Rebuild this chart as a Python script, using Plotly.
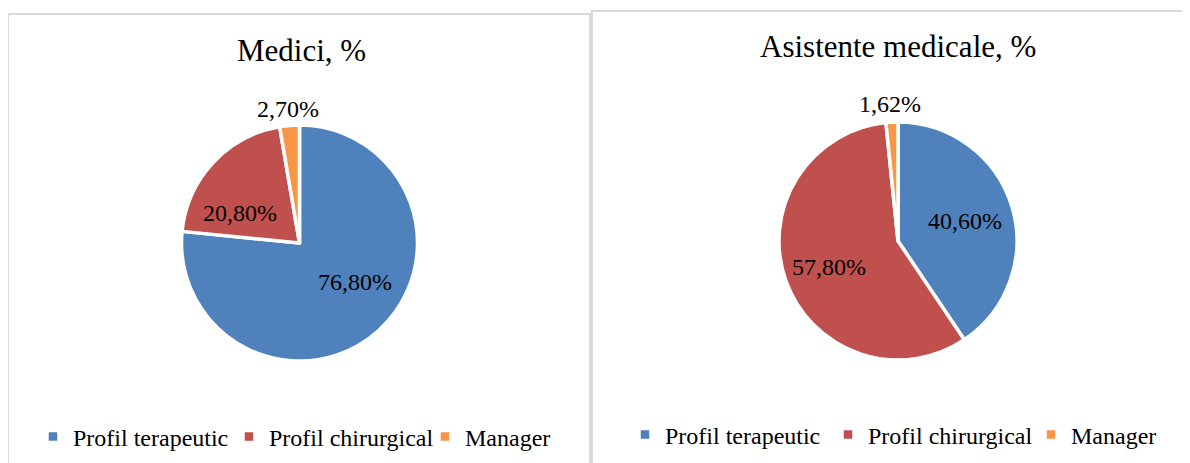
import plotly.graph_objects as go

# ---------------- data ----------------
categories = ["Profil terapeutic", "Profil chirurgical", "Manager"]
medici_values = [76.80, 20.80, 2.70]
medici_text = ["76,80%", "20,80%", "2,70%"]
asistente_values = [40.60, 57.80, 1.62]
asistente_text = ["40,60%", "57,80%", "1,62%"]
colors = ["#4F81BD", "#C0504D", "#F79646"]
titles = ["Medici, %", "Asistente medicale, %"]

# ---------------- layout helpers ----------------
FIG_W, FIG_H = 1260, 463
OFF = 8  # browser default body margin
FONT = "Liberation Serif"


def px_x(v):
    return (v - OFF) / FIG_W


def px_y(v):
    return 1 - (v - OFF) / FIG_H


# label placement (screen px of label centres), kept separate from the data
medici_label_pos = [(354.5, 282), (240, 213), (287.5, 109)]
asistente_label_pos = [(965, 221), (829, 267), (890, 104)]

fig = go.Figure()

pie_common = dict(
    textinfo="none", sort=False, direction="clockwise", rotation=0,
    marker=dict(colors=colors, line=dict(color="white", width=3.5)),
    hoverinfo="label+text", showlegend=True,
)

fig.add_trace(go.Pie(
    labels=categories, values=medici_values, text=medici_text,
    domain=dict(x=[px_x(181), px_x(418)], y=[px_y(361), px_y(125)]),
    legend="legend", **pie_common,
))

# a trailing space keeps the second pie's legend entries distinct from the first
fig.add_trace(go.Pie(
    labels=[c + " " for c in categories], values=asistente_values, text=asistente_text,
    domain=dict(x=[px_x(779), px_x(1017)], y=[px_y(360), px_y(122)]),
    legend="legend2", **pie_common,
))

border = "#D9D9D9"
shapes = [
    dict(type="rect", xref="paper", yref="paper",
         x0=px_x(8), x1=px_x(590), y0=-0.05, y1=px_y(14),
         line=dict(color=border, width=2), fillcolor="rgba(0,0,0,0)", layer="below"),
    dict(type="rect", xref="paper", yref="paper",
         x0=px_x(592), x1=1.05, y0=-0.05, y1=px_y(11),
         line=dict(color=border, width=2), fillcolor="rgba(0,0,0,0)", layer="below"),
]

annotations = [
    dict(text=titles[0], x=px_x(301.5), y=px_y(51), xref="paper", yref="paper",
         xanchor="center", yanchor="middle", showarrow=False,
         font=dict(family=FONT, size=31, color="black")),
    dict(text=titles[1], x=px_x(898), y=px_y(46), xref="paper", yref="paper",
         xanchor="center", yanchor="middle", showarrow=False,
         font=dict(family=FONT, size=31, color="black")),
]

for texts, positions in ((medici_text, medici_label_pos), (asistente_text, asistente_label_pos)):
    for t, (lx, ly) in zip(texts, positions):
        annotations.append(dict(
            text=t, x=px_x(lx), y=px_y(ly), xref="paper", yref="paper",
            xanchor="center", yanchor="middle", showarrow=False,
            font=dict(family=FONT, size=24, color="black"),
        ))

legend_common = dict(
    orientation="h", xanchor="left", yanchor="middle",
    font=dict(family=FONT, size=24, color="black"),
    bgcolor="rgba(0,0,0,0)", itemclick=False, itemdoubleclick=False,
    traceorder="normal", entrywidthmode="pixels",
)

fig.update_layout(
    width=FIG_W, height=FIG_H,
    margin=dict(l=0, r=0, t=0, b=0),
    paper_bgcolor="white", plot_bgcolor="white",
    shapes=shapes, annotations=annotations,
    legend=dict(x=px_x(33), y=px_y(437), entrywidth=151, **legend_common),
    legend2=dict(x=px_x(625), y=px_y(435), entrywidth=158, **legend_common),
    font=dict(family=FONT),
)

fig.write_html("out.html")
